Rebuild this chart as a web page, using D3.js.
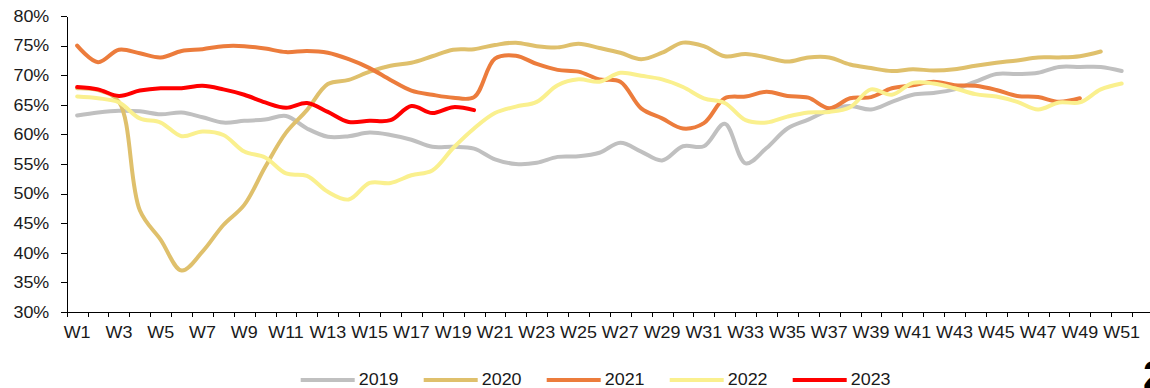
<!DOCTYPE html>
<html>
<head>
<meta charset="utf-8">
<script src="https://cdn.jsdelivr.net/npm/d3@7"></script>
<style>
  html, body { margin: 0; padding: 0; background: #fff; overflow: hidden; }
  svg { display: block; font-family: "Liberation Sans", Arial, sans-serif; }
  .axis path, .axis line { stroke: #000; stroke-width: 1; shape-rendering: crispEdges; }
  .axis text { fill: #1a1a1a; }
</style>
</head>
<body>
<svg id="chart" width="1150" height="388"></svg>
<script>
// Weekly categories
const weeks = ["W1","W2","W3","W4","W5","W6","W7","W8","W9","W10","W11","W12","W13",
  "W14","W15","W16","W17","W18","W19","W20","W21","W22","W23","W24","W25","W26",
  "W27","W28","W29","W30","W31","W32","W33","W34","W35","W36","W37","W38","W39",
  "W40","W41","W42","W43","W44","W45","W46","W47","W48","W49","W50","W51","W52"];

// Labelled weeks on the x axis
const weekLabels = ["W1","W3","W5","W7","W9","W11","W13","W15","W17","W19","W21","W23",
  "W25","W27","W29","W31","W33","W35","W37","W39","W41","W43","W45","W47","W49","W51"];

// Y tick values (%)
const yTicks = [30, 35, 40, 45, 50, 55, 60, 65, 70, 75, 80];

// Series values (%), week 1 onward
const s2019 = [63.2,63.7,64.0,63.9,63.4,63.7,62.9,62.0,62.3,62.5,63.1,61.0,59.6,59.7,60.3,
  59.9,59.1,57.9,57.9,57.6,55.8,55.0,55.2,56.2,56.3,56.9,58.6,57.1,55.6,58.0,58.0,61.8,
  55.1,57.7,61.0,62.5,64.1,64.8,64.2,65.5,66.7,67.0,67.6,68.9,70.2,70.2,70.4,71.4,71.4,
  71.4,70.7];
const s2020 = [67.8,67.5,65.5,47.2,42.2,37.0,40.2,44.7,48.1,54.5,60.3,64.1,68.5,69.2,70.6,
  71.6,72.1,73.2,74.3,74.4,75.1,75.5,74.9,74.7,75.3,74.6,73.8,72.7,73.8,75.5,74.9,73.2,
  73.6,73.0,72.3,73.0,73.0,71.8,71.2,70.7,71.0,70.8,71.0,71.6,72.1,72.5,73.0,73.0,73.2,
  74.0];
const s2021 = [75.0,72.2,74.3,73.7,73.0,74.1,74.4,74.9,74.9,74.5,73.9,74.1,73.8,72.7,71.2,
  69.2,67.4,66.7,66.2,66.3,72.8,73.3,71.9,70.9,70.6,69.3,68.9,64.4,62.7,61.0,61.9,66.1,
  66.4,67.2,66.5,66.2,64.4,66.1,66.3,67.8,68.3,68.9,68.3,68.2,67.5,66.5,66.3,65.5,66.1];
const s2022 = [66.4,66.1,65.4,62.7,62.0,59.7,60.5,59.9,57.1,56.1,53.4,53.0,50.3,49.0,51.8,
  51.8,53.1,53.9,57.7,61.0,63.6,64.7,65.5,68.3,69.3,68.9,70.4,69.9,69.3,68.0,66.1,65.3,
  62.4,62.0,63.0,63.7,63.8,64.6,67.6,66.7,68.7,68.6,67.8,66.8,66.4,65.5,64.2,65.4,65.4,
  67.6,68.6];
const s2023 = [68.0,67.6,66.5,67.4,67.8,67.8,68.2,67.6,66.7,65.4,64.5,65.3,63.8,62.1,62.3,
  62.4,64.8,63.6,64.6,64.1];

const seriesNames = ["2019", "2020", "2021", "2022", "2023"];
const seriesValues = [s2019, s2020, s2021, s2022, s2023];
const seriesColors = ["#c0c0c0", "#dfc06c", "#ec7c3c", "#faf08e", "#ff0000"];

const svg = d3.select("#chart");
const plotL = 66.7, plotR = 1153, plotT = 16, plotB = 312;
const fontSize = 16.3, stretch = 1.1;

const x = d3.scaleBand().domain(weeks).range([plotL, plotR]).padding(0);
const xEdge = d3.scaleLinear().domain([0, weeks.length]).range([plotL, plotR]);
const y = d3.scaleLinear().domain([30, 80]).range([plotB, plotT]);

// X axis: tick marks at week boundaries
svg.append("g")
  .attr("class", "axis")
  .attr("transform", `translate(0,${plotB})`)
  .call(d3.axisBottom(xEdge).tickValues(d3.range(0, weeks.length + 1))
    .tickFormat("").tickSize(5).tickSizeOuter(0));

// X axis labels at week centres
const xLab = svg.append("g")
  .attr("class", "axis")
  .attr("transform", `translate(0,${plotB})`)
  .call(d3.axisBottom(x).tickValues(weekLabels).tickSize(0).tickPadding(14));
xLab.select(".domain").remove();
xLab.selectAll("text")
  .attr("font-size", fontSize)
  .attr("font-family", "Liberation Sans, Arial, sans-serif")
  .attr("transform", `scale(${stretch},1)`);

// Y axis
const yAx = svg.append("g")
  .attr("class", "axis")
  .attr("transform", `translate(${plotL},0)`)
  .call(d3.axisLeft(y).tickValues(yTicks).tickFormat(d => d + "%")
    .tickSize(6).tickSizeOuter(0).tickPadding(0));
yAx.selectAll("text")
  .attr("font-size", fontSize)
  .attr("font-family", "Liberation Sans, Arial, sans-serif")
  .attr("x", -17.4 / stretch)
  .attr("transform", `scale(${stretch},1)`);

// Lines
const line = d3.line()
  .x((d, i) => x(weeks[i]) + x.bandwidth() / 2)
  .y(d => y(d))
  .curve(d3.curveCatmullRom.alpha(0.5));

seriesValues.forEach((vals, k) => {
  svg.append("path")
    .datum(vals)
    .attr("fill", "none")
    .attr("stroke", seriesColors[k])
    .attr("stroke-width", 4)
    .attr("stroke-linejoin", "round")
    .attr("stroke-linecap", "round")
    .attr("d", line);
});

// Legend
const legend = svg.append("g").attr("transform", "translate(300.7,380)");
seriesNames.forEach((name, k) => {
  const g = legend.append("g").attr("transform", `translate(${k * 123},0)`);
  g.append("line")
    .attr("x1", 0).attr("x2", 54).attr("y1", 0).attr("y2", 0)
    .attr("stroke", seriesColors[k]).attr("stroke-width", 4);
  g.append("text")
    .attr("x", 58 / stretch).attr("y", 4.6)
    .attr("font-size", fontSize)
    .attr("fill", "#1a1a1a")
    .attr("transform", `scale(${stretch},1)`)
    .text(name);
});

// Page number at the lower right edge
svg.append("text")
  .attr("x", 1143).attr("y", 389)
  .attr("font-size", 40).attr("font-weight", "bold")
  .attr("fill", "#000")
  .text("2");
</script>
</body>
</html>
